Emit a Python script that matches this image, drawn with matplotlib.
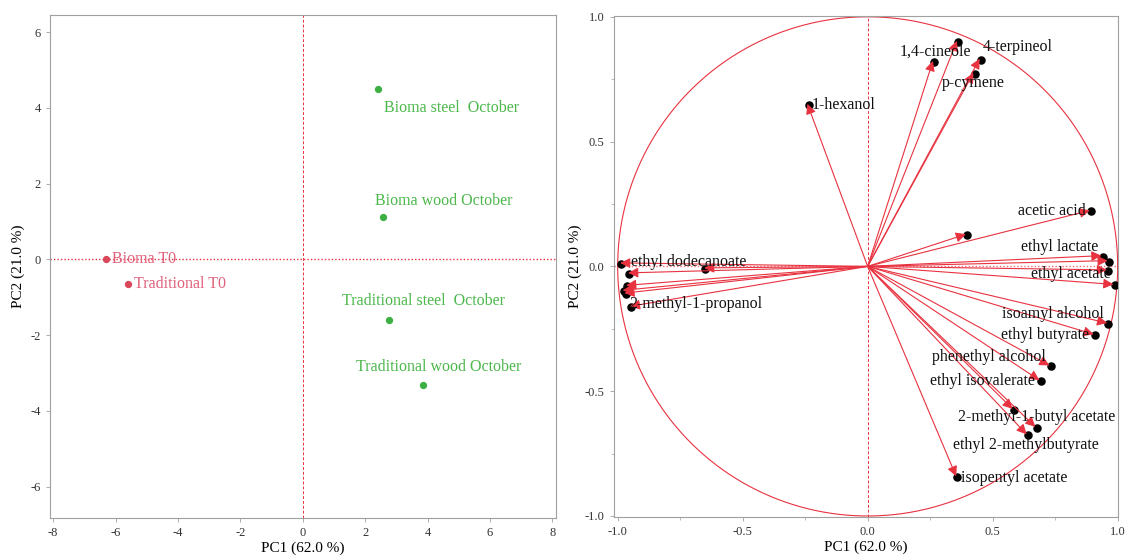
import numpy as np
import matplotlib
matplotlib.use('Agg')
import matplotlib.pyplot as plt

# scores
samples = ['Bioma T0', 'Traditional T0', 'Bioma steel  October', 'Bioma wood October',
           'Traditional steel  October', 'Traditional wood October']
score_pc1 = [-6.3, -5.6, 2.4, 2.57, 2.75, 3.85]
score_pc2 = [0.0, -0.65, 4.5, 1.12, -1.6, -3.33]
groups = ['T0', 'T0', 'Oct', 'Oct', 'Oct', 'Oct']

# loadings
compounds = ['1-hexanol', '1,4-cineole', '', '4-terpineol', 'p-cymene', 'acetic acid', '',
             'ethyl lactate', '', 'ethyl acetate', '', 'isoamyl alcohol', 'ethyl butyrate',
             'phenethyl alcohol', 'ethyl isovalerate', '', '2-methyl-1-butyl acetate',
             'ethyl 2-methylbutyrate', 'isopentyl acetate',
             'ethyl dodecanoate', '', '', '', '', '', '2-methyl-1-propanol']
load_pc1 = [-0.241, 0.261, 0.357, 0.448, 0.423, 0.888, 0.393,
            0.935, 0.960, 0.957, 0.983, 0.958, 0.904,
            0.727, 0.687, 0.580, 0.671,
            0.636, 0.354,
            -0.990, -0.654, -0.958, -0.966, -0.980, -0.973, -0.951]
load_pc2 = [0.651, 0.823, 0.903, 0.832, 0.775, 0.224, 0.129,
            0.043, 0.023, -0.014, -0.072, -0.227, -0.272,
            -0.397, -0.456, -0.571, -0.643,
            -0.673, -0.841,
            0.014, -0.006, -0.026, -0.076, -0.096, -0.107, -0.160]

# label placement (x, y, ha)
label_pos = {
    '1-hexanol': (-0.224, 0.648, 'left'),
    '1,4-cineole': (0.128, 0.86, 'left'),
    '4-terpineol': (0.462, 0.877, 'left'),
    'p-cymene': (0.297, 0.733, 'left'),
    'acetic acid': (0.871, 0.22, 'right'),
    'ethyl lactate': (0.921, 0.077, 'right'),
    'ethyl acetate': (0.971, -0.032, 'right'),
    'isoamyl alcohol': (0.943, -0.189, 'right'),
    'ethyl butyrate': (0.885, -0.276, 'right'),
    'phenethyl alcohol': (0.713, -0.363, 'right'),
    'ethyl isovalerate': (0.670, -0.459, 'right'),
    '2-methyl-1-butyl acetate': (0.362, -0.603, 'left'),
    'ethyl 2-methylbutyrate': (0.343, -0.716, 'left'),
    'isopentyl acetate': (0.373, -0.848, 'left'),
    'ethyl dodecanoate': (-0.947, 0.017, 'left'),
    '2-methyl-1-propanol': (-0.954, -0.149, 'left'),
}
score_label_pos = {
    'Bioma T0': (-6.1, 0.0, 'left'),
    'Traditional T0': (-5.4, -0.65, 'left'),
    'Bioma steel  October': (2.6, 4.0, 'left'),
    'Bioma wood October': (2.33, 1.55, 'left'),
    'Traditional steel  October': (1.25, -1.1, 'left'),
    'Traditional wood October': (1.7, -2.85, 'left'),
}

plt.rcParams['font.family'] = ['Liberation Serif', 'DejaVu Serif']
plt.rcParams['axes.unicode_minus'] = False
red = '#e8323f'
pt_col = {'T0': '#d9475a', 'Oct': '#3cb043'}
txt_col = {'T0': '#e0607a', 'Oct': '#4cb84c'}
spine_col = '#a0a0a0'

fig = plt.figure(figsize=(11.26, 5.6), dpi=100)
ax1 = fig.add_axes([0.0444, 0.075, 0.449, 0.898])
ax2 = fig.add_axes([0.545, 0.0768, 0.4476, 0.895])

for ax in (ax1, ax2):
    for s in ax.spines.values():
        s.set_color(spine_col)
        s.set_linewidth(0.8)
    ax.tick_params(colors='#333333', labelsize=9, length=3, width=0.6, color=spine_col)

# score plot
ax1.axhline(0, color=red, ls=(0, (1, 1.5)), lw=1.0, zorder=1)
ax1.axvline(0, color=red, ls=(0, (3, 2)), lw=0.7, zorder=1)
for name, x, y, g in zip(samples, score_pc1, score_pc2, groups):
    ax1.scatter(x, y, s=18, color=pt_col[g], zorder=3)
    tx, ty, ha = score_label_pos[name]
    ax1.text(tx, ty, name, color=txt_col[g], fontsize=11.5, ha=ha, va='center', zorder=4)
ax1.set_xlim(-8.1, 8.1)
ax1.set_ylim(-6.83, 6.45)
ax1.set_xticks(range(-8, 9, 2))
ax1.set_yticks(range(-6, 7, 2))
ax1.set_xlabel('PC1 (62.0 %)', fontsize=11, labelpad=2)
ax1.set_ylabel('PC2 (21.0 %)', fontsize=11, labelpad=4)

# loading plot
t = np.linspace(0, 2 * np.pi, 400)
ax2.plot(np.cos(t), np.sin(t), color=red, lw=0.8, zorder=1)
ax2.axhline(0, color=red, ls=(0, (1, 1.5)), lw=1.0, zorder=1, alpha=0.7)
ax2.axvline(0, color=red, ls=(0, (3, 2)), lw=0.7, zorder=1)
ax2.scatter(np.array(load_pc1) + 0.005, np.array(load_pc2) - 0.004, s=26, color='black', zorder=2)
for x, y in zip(load_pc1, load_pc2):
    ax2.annotate('', xy=(x, y), xytext=(0, 0),
                 arrowprops=dict(arrowstyle='-|>', color=red, lw=0.8,
                                 mutation_scale=15, shrinkA=0, shrinkB=0),
                 zorder=3)
for name in compounds:
    if name:
        tx, ty, ha = label_pos[name]
        ax2.text(tx, ty, name, fontsize=11.5, ha=ha, va='center', color='#111111', zorder=4)
ax2.set_xlim(-1.016, 1.0)
ax2.set_ylim(-1.004, 1.004)
ax2.set_xticks([-1.0, -0.5, 0.0, 0.5, 1.0])
ax2.set_yticks([-1.0, -0.5, 0.0, 0.5, 1.0])
ax2.set_xticks(np.arange(-1, 1.01, 0.25), minor=True)
ax2.set_yticks(np.arange(-1, 1.01, 0.25), minor=True)
ax2.tick_params(which='minor', length=2, width=0.5, color=spine_col)
ax2.xaxis.set_major_formatter(matplotlib.ticker.FormatStrFormatter('%.1f'))
ax2.yaxis.set_major_formatter(matplotlib.ticker.FormatStrFormatter('%.1f'))
ax2.set_xlabel('PC1 (62.0 %)', fontsize=11, labelpad=2)
ax2.set_ylabel('PC2 (21.0 %)', fontsize=11, labelpad=2)

fig.savefig('out.png', dpi=100)
